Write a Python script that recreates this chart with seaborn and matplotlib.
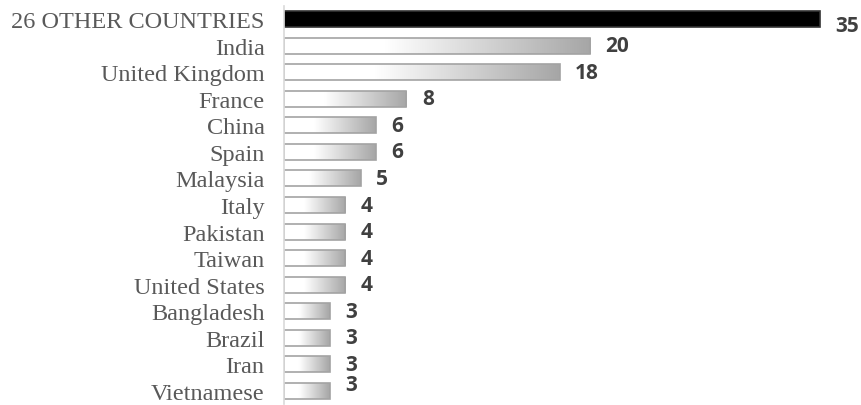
import numpy as np
import pandas as pd
import matplotlib
matplotlib.use("Agg")
import matplotlib.pyplot as plt
import seaborn as sns
from matplotlib.colors import LinearSegmentedColormap

countries = ["26 OTHER COUNTRIES", "India", "United Kingdom", "France", "China", "Spain",
             "Malaysia", "Italy", "Pakistan", "Taiwan", "United States", "Bangladesh",
             "Brazil", "Iran", "Vietnamese"]
values = [35, 20, 18, 8, 6, 6, 5, 4, 4, 4, 4, 3, 3, 3, 3]

df = pd.DataFrame({"country": countries, "value": values})

sns.set_theme(style="white")
plt.rcParams["font.family"] = ["DejaVu Sans"]

fig = plt.figure(figsize=(8.62, 4.06), dpi=100)
ax = fig.add_axes([284 / 862, 1 - 405.3 / 406, 1 - 284 / 862, (405.3 - 6.7) / 406])

sns.barplot(data=df, x="value", y="country", ax=ax, width=0.6,
            color="#a6a6a6", edgecolor="#a3a3a3", linewidth=1.2, saturation=1)

ax.set_xlim(0, (862 - 284) / 15.31)
ax.set_ylim(14.5, -0.5)

grad_cmap = LinearSegmentedColormap.from_list(
    "g", [(0, "#ffffff"), (0.33, "#ffffff"), (1.0, "#a6a6a6")])
grad = np.linspace(0, 1, 256).reshape(1, -1)
for i, p in enumerate(ax.patches):
    x0, y0 = p.get_x(), p.get_y()
    w, h = p.get_width(), p.get_height()
    if i == 0:
        p.set_facecolor("#000000")
        p.set_edgecolor("#333333")
        continue
    p.set_facecolor("none")
    im = ax.imshow(grad, cmap=grad_cmap, aspect="auto",
                   extent=(x0, x0 + w, y0 + h, y0), zorder=p.get_zorder() - 0.1,
                   interpolation="bilinear")
    im.set_clip_path(p)

ax.set_xlim(0, (862 - 284) / 15.31)
ax.set_ylim(14.5, -0.5)

for i, (c, v) in enumerate(zip(countries, values)):
    dy = 0
    if i == 0:
        dy = -5
    elif i == len(values) - 1:
        dy = 5
    ax.annotate(str(v), xy=(v, i), xytext=(11, dy), textcoords="offset points",
                ha="left", va="center", fontsize=15, fontweight="bold",
                color="#404040", family=["Open Sans", "DejaVu Sans"])

ax.set_xlabel("")
ax.set_ylabel("")
ax.set_xticks([])
ax.tick_params(axis="y", length=0, pad=14)
for lab in ax.get_yticklabels():
    lab.set_family(["Liberation Serif", "DejaVu Serif"])
    lab.set_fontsize(17.5)
    lab.set_color("#595959")

for s in ["top", "right", "bottom"]:
    ax.spines[s].set_visible(False)
ax.spines["left"].set_color("#d9d9d9")
ax.spines["left"].set_linewidth(1.2)
ax.set_facecolor("white")
fig.patch.set_facecolor("white")

fig.savefig("out.png", dpi=100, facecolor="white")
